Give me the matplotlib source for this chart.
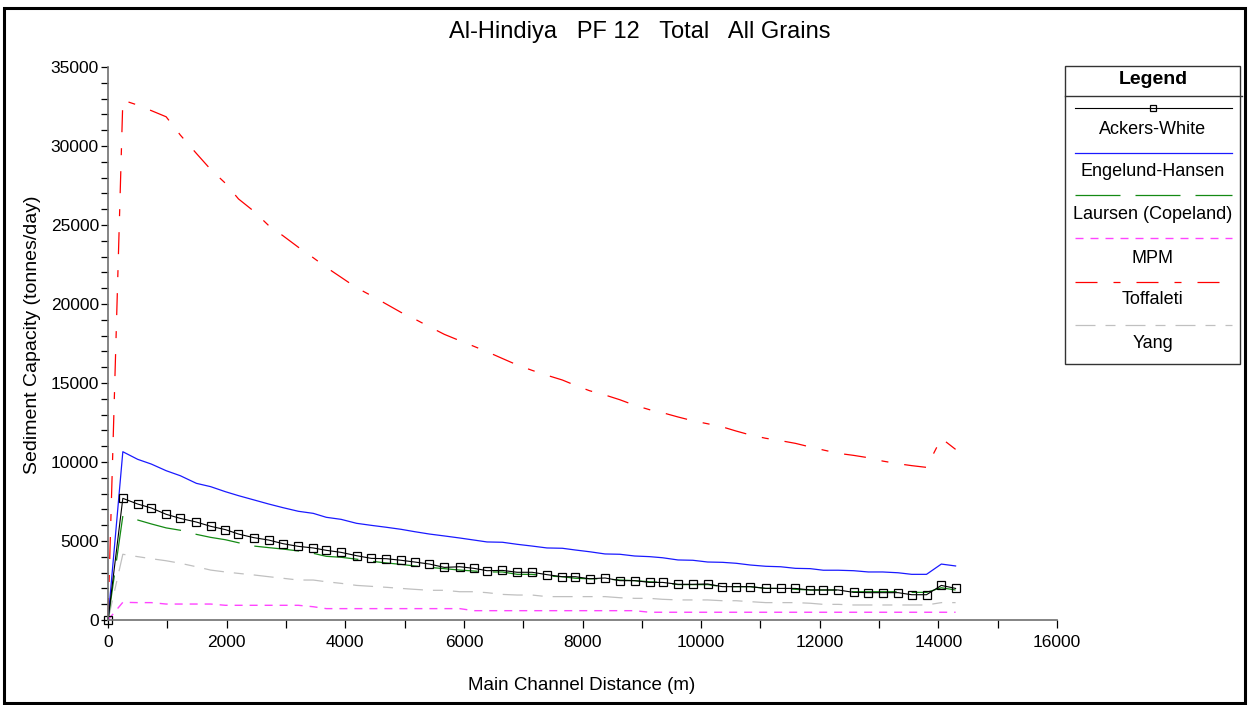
import matplotlib
matplotlib.use("Agg")
import matplotlib.pyplot as plt
from matplotlib.patches import Rectangle
from matplotlib.ticker import MultipleLocator

plt.rcParams['lines.scale_dashes'] = False
FONT = ['Liberation Sans Narrow', 'Liberation Sans', 'DejaVu Sans']
plt.rcParams['font.family'] = FONT

# ---------------- data ----------------
distance = [0, 250, 500, 730, 980, 1220, 1490, 1730, 1980, 2200, 2460, 2710, 2950,
            3210, 3460, 3680, 3930, 4190, 4440, 4690, 4940, 5170, 5420, 5670, 5930,
            6170, 6390, 6650, 6900, 7150, 7400, 7660, 7880, 8120, 8380, 8630, 8880,
            9130, 9350, 9610, 9860, 10110, 10360, 10590, 10830, 11090, 11340, 11590,
            11840, 12060, 12310, 12570, 12820, 13060, 13320, 13550, 13800, 14050, 14290]

ackers_white = [0, 7700, 7340, 7090, 6690, 6430, 6200, 5930, 5720, 5440, 5210, 5060,
                4830, 4660, 4560, 4410, 4280, 4070, 3900, 3880, 3780, 3670, 3540, 3330,
                3370, 3270, 3120, 3140, 3020, 3020, 2870, 2740, 2740, 2610, 2660, 2490,
                2490, 2380, 2380, 2260, 2260, 2280, 2110, 2110, 2110, 2000, 2000, 2000,
                1900, 1900, 1900, 1750, 1730, 1730, 1730, 1600, 1600, 2190, 2000]

engelund_hansen = [0, 10650, 10170, 9870, 9450, 9130, 8650, 8440, 8120, 7870, 7600,
                   7340, 7110, 6880, 6750, 6500, 6370, 6120, 5990, 5870, 5740, 5590,
                   5440, 5320, 5190, 5060, 4940, 4920, 4790, 4680, 4560, 4540, 4430,
                   4320, 4180, 4160, 4050, 4010, 3940, 3800, 3780, 3670, 3650, 3590,
                   3480, 3400, 3370, 3270, 3250, 3150, 3150, 3120, 3040, 3040, 2990,
                   2890, 2890, 3540, 3420]

laursen = [0, 6580, 6330, 6080, 5830, 5680, 5420, 5230, 5080, 4890, 4680, 4580, 4490,
           4370, 4220, 4030, 3970, 3850, 3720, 3610, 3520, 3420, 3330, 3250, 3160, 3100,
           3040, 3040, 2890, 2890, 2780, 2740, 2640, 2610, 2600, 2530, 2490, 2420, 2380,
           2240, 2240, 2240, 2110, 2110, 2110, 2000, 2000, 1940, 1900, 1900, 1900, 1790,
           1790, 1790, 1790, 1750, 1750, 2040, 1900]

mpm = [0, 1120, 1100, 1100, 1010, 1010, 1010, 1010, 930, 930, 930, 930, 930, 930, 840,
       720, 720, 720, 720, 720, 720, 720, 720, 720, 720,
       590, 590, 590, 590, 590, 590, 590, 590, 590, 590, 590, 590,
       490, 490, 490, 490, 490, 490, 490, 490, 490, 490, 490, 490, 490, 490, 490, 490,
       490, 490, 490, 490, 490, 490]

toffaleti = [0, 32900, 32590, 32240, 31850, 30690, 29530, 28520, 27640, 26650, 25870,
             24960, 24320, 23590, 22930, 22320, 21690, 21030, 20530, 20000, 19470, 19050,
             18560, 18080, 17680, 17320, 16980, 16550, 16140, 15800, 15490, 15190, 14850,
             14510, 14240, 13940, 13590, 13310, 13120, 12850, 12610, 12420, 12220, 11960,
             11710, 11500, 11350, 11180, 10950, 10760, 10550, 10420, 10270, 10060, 9890,
             9770, 9660, 11500, 10800]

yang = [0, 4160, 4010, 3880, 3750, 3590, 3370, 3160, 3040, 2950, 2850, 2740, 2640, 2530,
        2530, 2420, 2320, 2190, 2130, 2070, 2000, 1940, 1880, 1880, 1790, 1790, 1730,
        1620, 1580, 1580, 1480, 1480, 1480, 1480, 1480, 1410, 1370, 1370, 1310, 1270,
        1270, 1270, 1220, 1220, 1160, 1100, 1100, 1100, 1060, 990, 990, 950, 950, 950,
        950, 950, 950, 1100, 1100]

series_names = ['Ackers-White', 'Engelund-Hansen', 'Laursen (Copeland)', 'MPM',
                'Toffaleti', 'Yang']
title_text = 'Al-Hindiya   PF 12   Total   All Grains'
xlabel_text = 'Main Channel Distance (m)'
ylabel_text = 'Sediment Capacity (tonnes/day)'

# ---------------- styles ----------------
PX = 0.72  # points per pixel at dpi 100
styles = {
    'Ackers-White': dict(color='black', lw=0.8, ls='-', marker='s', ms=5.6,
                         mfc='none', mec='black', mew=0.9),
    'Engelund-Hansen': dict(color='#1a1aff', lw=0.9, ls='-'),
    'Laursen (Copeland)': dict(color='#148a14', lw=0.9, ls=(0, (45 * PX, 15 * PX))),
    'MPM': dict(color='#ff44ff', lw=1.0, ls=(0, (8 * PX, 7 * PX))),
    'Toffaleti': dict(color='#ff0000', lw=0.9,
                      ls=(0, (22 * PX, 16 * PX, 7 * PX, 16 * PX))),
    'Yang': dict(color='#c0c0c0', lw=0.9, ls=(0, (20 * PX, 10 * PX, 10 * PX, 10 * PX))),
}
series_values = [ackers_white, engelund_hansen, laursen, mpm, toffaleti, yang]

W, H = 1249, 705
fig = plt.figure(figsize=(W / 100, H / 100), dpi=100)
fig.patch.set_facecolor('white')

ax = fig.add_axes([108 / W, (H - 620) / H, (1057 - 108) / W, (620 - 67) / H])
order = ['Yang', 'MPM', 'Toffaleti', 'Laursen (Copeland)', 'Engelund-Hansen', 'Ackers-White']
for name in order:
    vals = series_values[series_names.index(name)]
    ax.plot(distance, vals, clip_on=False, **styles[name])

ax.set_xlim(0, 16000)
ax.set_ylim(0, 35000)
ax.xaxis.set_major_locator(MultipleLocator(2000))
ax.xaxis.set_minor_locator(MultipleLocator(1000))
ax.yaxis.set_major_locator(MultipleLocator(5000))
ax.yaxis.set_minor_locator(MultipleLocator(1000))
for s in ['top', 'right']:
    ax.spines[s].set_visible(False)
for s in ['left', 'bottom']:
    ax.spines[s].set_color('#707070')
    ax.spines[s].set_linewidth(1.2)
ax.tick_params(axis='both', which='both', direction='out', color='black', width=0.9)
ax.tick_params(axis='x', which='both', length=6)
ax.tick_params(axis='y', which='both', length=5)
ax.tick_params(axis='x', which='major', labelsize=12.5, pad=5)
ax.tick_params(axis='y', which='major', labelsize=12.5, pad=1.5)
for lab in ax.get_xticklabels() + ax.get_yticklabels():
    lab.set_family(FONT)
ax.set_facecolor('white')

# overlay in pixel coordinates for texts, legend box and frame
ov = fig.add_axes([0, 0, 1, 1], facecolor='none')
ov.set_xlim(0, W)
ov.set_ylim(H, 0)
ov.axis('off')

ov.text(640, 32, title_text, ha='center', va='center', fontsize=17, family=FONT)
ov.text(582, 686, xlabel_text, ha='center', va='center', fontsize=13.5, family=FONT)
ov.text(33, 335, ylabel_text, ha='center', va='center', rotation=90, fontsize=14,
        family=['Liberation Sans', 'DejaVu Sans'])

# legend box
ov.add_patch(Rectangle((1065, 66), 175, 298, fill=False, ec='#333333', lw=1.0))
ov.plot([1065, 1242], [96, 96], color='#333333', lw=1.0)
ov.text(1153, 80, 'Legend', ha='center', va='center', fontsize=14,
        fontweight='bold', family=FONT)
line_y = [108, 152.5, 195, 238, 281.5, 324.5]
label_y = [130, 171.5, 214.5, 258.5, 300, 343]
for name, ly, ty in zip(series_names, line_y, label_y):
    st = dict(styles[name])
    st.pop('marker', None)
    ov.plot([1075, 1232], [ly, ly], **st)
    if name == 'Ackers-White':
        ov.plot([1153], [ly], ls='none', marker='s', ms=5, mfc='none', mec='black', mew=0.9)
    ov.text(1153, ty, name, ha='center', va='center', fontsize=13, family=FONT)

# outer frame
ov.add_patch(Rectangle((4, 7.5), 1241, 695.5, fill=False, ec='black', lw=2.2))

fig.savefig('out.png', dpi=100, facecolor='white')
